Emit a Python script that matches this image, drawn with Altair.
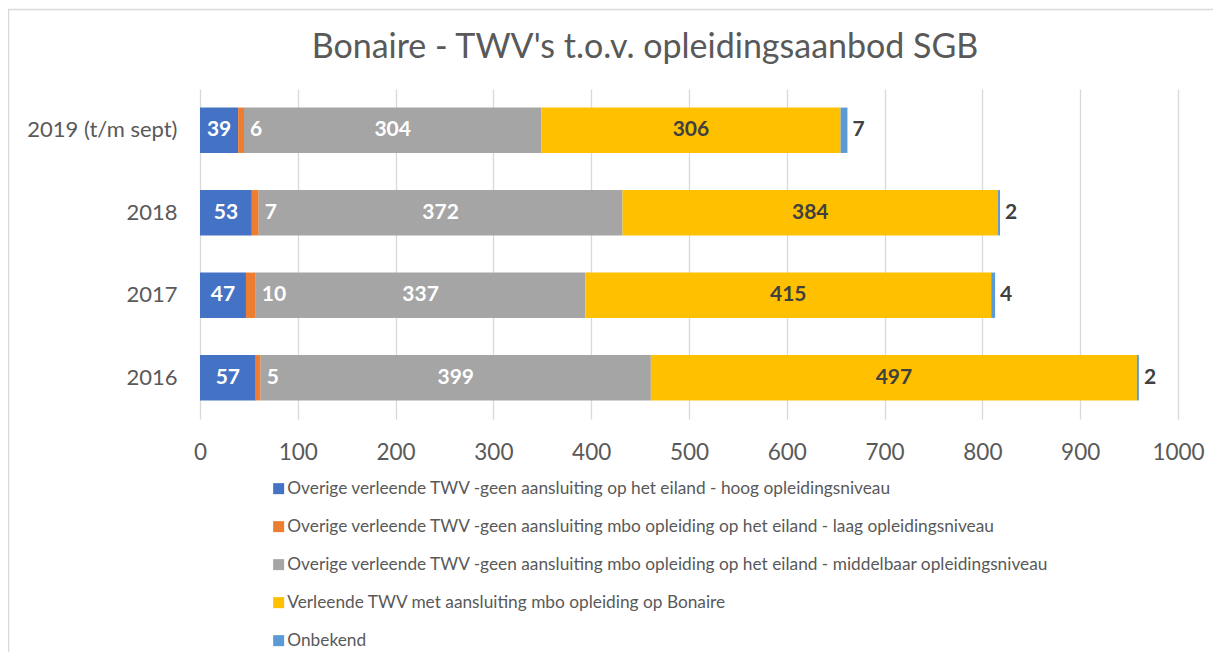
import altair as alt
import pandas as pd

years = ["2019 (t/m sept)", "2018", "2017", "2016"]
series = [
    "Overige verleende TWV -geen aansluiting op het eiland - hoog opleidingsniveau",
    "Overige verleende TWV -geen aansluiting mbo opleiding op het eiland - laag opleidingsniveau",
    "Overige verleende TWV -geen aansluiting mbo opleiding op het eiland - middelbaar opleidingsniveau",
    "Verleende TWV met aansluiting mbo opleiding op Bonaire",
    "Onbekend",
]
colors = ["#4472C4", "#ED7D31", "#A5A5A5", "#FFC000", "#5B9BD5"]

hoog = [39, 53, 47, 57]
laag = [6, 7, 10, 5]
middelbaar = [304, 372, 337, 399]
bonaire = [306, 384, 415, 497]
onbekend = [7, 2, 4, 2]
x_ticks = [0, 100, 200, 300, 400, 500, 600, 700, 800, 900, 1000]

rows = []
for si, (name, vals) in enumerate(zip(series, [hoog, laag, middelbaar, bonaire, onbekend])):
    for y, v in zip(years, vals):
        rows.append({"jaar": y, "reeks": name, "idx": si, "waarde": v})
df = pd.DataFrame(rows)

W, H = 978, 330
FONT = "Lato"
TXT = "#595959"
DARK = "#404040"

base = alt.Chart(df).transform_stack(
    stack="waarde", groupby=["jaar"], sort=[alt.SortField("idx")], as_=["x0", "x1"]
).transform_calculate(mid="(datum.x0 + datum.x1) / 2")

xscale = alt.Scale(domain=[0, 1000], nice=False, zero=True)
yenc = alt.Y("jaar:N", sort=years, title=None,
             scale=alt.Scale(paddingInner=0.45, paddingOuter=0.225))

bars = base.mark_bar().encode(
    x=alt.X("x0:Q", scale=xscale, title=None,
            axis=alt.Axis(values=x_ticks, format="d", labelFlush=False)),
    x2="x1:Q",
    y=yenc,
    color=alt.Color(
        "reeks:N",
        scale=alt.Scale(domain=series, range=colors),
        legend=alt.Legend(
            orient="none", legendX=70, legendY=391, direction="vertical", title=None,
            symbolType="square", symbolSize=121, symbolStrokeWidth=0,
            labelFontSize=17.3, labelFont=FONT, labelColor=TXT, labelLimit=2000,
            labelOffset=0, rowPadding=20,
        ),
    ),
)

center_labels = base.transform_filter("datum.idx == 0 || datum.idx == 2 || datum.idx == 3").mark_text(
    font=FONT, fontSize=21, fontWeight="bold", align="center", baseline="middle"
).encode(
    x=alt.X("mid:Q", scale=xscale, title=None),
    y=yenc,
    text="waarde:Q",
    color=alt.condition("datum.idx == 3", alt.value(DARK), alt.value("white")),
)

orange_labels = base.transform_filter("datum.idx == 1").mark_text(
    font=FONT, fontSize=21, fontWeight="bold", align="left", baseline="middle", dx=6, color="white"
).encode(
    x=alt.X("x1:Q", scale=xscale, title=None),
    y=yenc,
    text="waarde:Q",
)

end_labels = base.transform_filter("datum.idx == 4").mark_text(
    font=FONT, fontSize=21, fontWeight="bold", align="left", baseline="middle", dx=5, color=DARK
).encode(
    x=alt.X("x1:Q", scale=xscale, title=None),
    y=yenc,
    text="waarde:Q",
)

border = alt.Chart(pd.DataFrame({"b": [0]})).mark_rect(
    fillOpacity=0, stroke="#D9D9D9", strokeWidth=1.5
).encode(
    x=alt.value(-191.5), x2=alt.value(W + 300), y=alt.value(-79.5), y2=alt.value(H + 500)
)

chart = alt.layer(border, bars, center_labels, orange_labels, end_labels).properties(
    width=W, height=H,
    title=alt.TitleParams(
        "Bonaire - TWV's t.o.v. opleidingsaanbod SGB",
        font=FONT, fontSize=34, fontWeight="normal", color=TXT,
        anchor="middle", dx=-44, offset=-83, baseline="alphabetic",
    ),
    autosize=alt.AutoSizeParams(type="none"),
    padding={"left": 192, "top": 81, "right": 35, "bottom": 233},
).configure_view(strokeOpacity=0).configure_axisX(
    grid=True, gridColor="#D9D9D9", gridWidth=1.3, domain=False, ticks=False,
    labelFont=FONT, labelFontSize=22.5, labelColor=TXT, labelPadding=22,
).configure_axisY(
    grid=False, domain=False, ticks=False,
    labelFont=FONT, labelFontSize=22, labelColor=TXT, labelPadding=23,
)

chart.save("out.html", embed_options={"renderer": "svg", "actions": False})
